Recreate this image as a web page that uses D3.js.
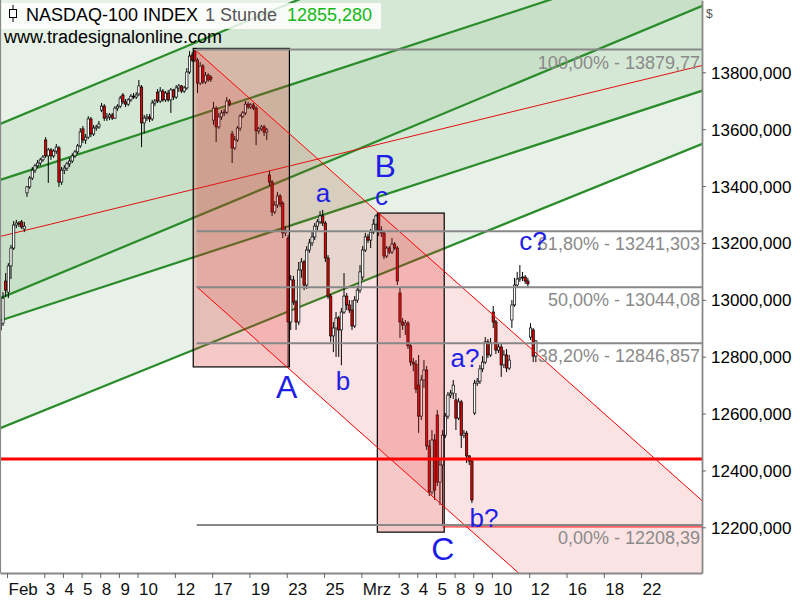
<!DOCTYPE html>
<html><head><meta charset="utf-8">
<script src="https://cdn.jsdelivr.net/npm/d3@7"></script>
<style>body{margin:0;background:#fff}svg{display:block}text{font-family:"Liberation Sans",Arial,sans-serif}</style>
</head><body><svg id="c" width="800" height="600"></svg>
<script>
// ---------- DATA ----------
// hourly bars, 7 per session; bar index 0 = first bar of Feb 1
const barStart = -3;
const opens = [12894,12918,13066,
13027,13119,13182,13263,13270,13274,13249,
13376,13397,13428,13456,13471,13481,13492,
13562,13506,13527,13506,13523,13534,13414,
13456,13463,13478,13488,13506,13520,13541,
13601,13562,13572,13636,13583,13604,13608,
13667,13681,13639,13643,13650,13639,13674,
13681,13720,13696,13688,13703,13716,13713,
13724,13748,13622,13639,13643,13636,13692,
13730,13699,13734,13703,13727,13703,13738,
13713,13745,13752,13734,13745,13801,13861,
13875,13843,13762,13822,13766,13790,13783,
13632,13674,13608,13643,13657,13660,13699,
13583,13534,13562,13604,13646,13657,13688,
13678,13685,13674,13594,13601,13608,13590,
13439,13414,13309,13333,13365,13340,13235,
13217,12922,13070,12992,12922,13105,13133,
13052,13175,13200,13221,13259,13274,13295,
13270,13147,13013,12873,12901,12936,12894,
12957,13013,12982,12964,12908,12999,13034,
13080,13175,13221,13210,13238,13266,13302,
13245,13235,13154,13182,13168,13196,13182,
13024,12922,12911,12918,12838,12781,12774,
12700,12591,12718,12753,12486,12324,12507,
12595,12359,12419,12524,12591,12665,12672,
12648,12584,12641,12524,12531,12451,12433,
12602,12707,12714,12757,12781,12852,12806,
12957,12922,12823,12834,12771,12806,12760,
12929,12982,13052,13073,13077,13080,13066,
12869,12894,12802];
const highs = [12936,13027,13094,
13129,13193,13277,13281,13277,13281,13274,
13400,13435,13467,13478,13492,13499,13509,
13572,13534,13534,13530,13548,13541,13467,
13474,13485,13499,13516,13527,13548,13604,
13611,13583,13646,13643,13615,13615,13629,
13692,13688,13657,13657,13657,13681,13688,
13717,13727,13706,13709,13724,13727,13730,
13773,13755,13650,13653,13653,13703,13706,
13741,13748,13741,13734,13738,13745,13741,
13755,13759,13755,13752,13815,13875,13871,
13879.77,13850,13836,13829,13801,13797,13790,
13696,13681,13657,13667,13671,13713,13706,
13594,13576,13611,13653,13664,13699,13696,
13692,13692,13681,13608,13615,13615,13604,
13453,13421,13347,13379,13372,13347,13259,
13228,13087,13084,12999,13133,13147,13140,
13189,13214,13238,13270,13284,13312,13316,
13277,13157,13020,12922,12957,12943,12971,
13094,13024,12999,12999,13013,13049,13122,
13189,13235,13231,13249,13284,13300,13305,
13259,13242,13189,13189,13217,13203,13189,
13045,12936,12929,12925,12845,12795,12788,
12806,12735,12788,12767,12507,12542,12528,
12612,12437,12542,12602,12676,12683,12718,
12672,12654,12648,12542,12539,12454,12437,
12718,12725,12771,12802,12869,12862,12866,
12978,12929,12845,12848,12823,12827,12806,
12999,13077,13098,13122,13098,13087,13077,
12918,12901,12858];
const lows = [12883,12908,13010,
13006,13073,13175,13252,13256,13249,13238,
13362,13390,13421,13446,13464,13471,13485,
13499,13411,13492,13499,13513,13397,13404,
13442,13453,13467,13481,13499,13513,13534,
13551,13548,13565,13572,13576,13594,13601,
13660,13629,13629,13632,13632,13636,13664,
13674,13688,13678,13681,13696,13706,13706,
13716,13537,13586,13629,13625,13629,13681,
13692,13692,13696,13696,13696,13657,13703,
13706,13731,13727,13727,13738,13794,13836,
13836,13727,13755,13759,13759,13766,13766,
13615,13555,13601,13632,13646,13653,13681,
13481,13527,13555,13594,13639,13650,13671,
13671,13667,13544,13583,13594,13576,13562,
13400,13295,13302,13323,13326,13217,13224,
12764,12894,12982,12894,12911,13077,13034,
13038,13165,13189,13210,13245,13266,13259,
13133,13003,12852,12816,12799,12799,12770,
12950,12964,12954,12894,12901,12989,13024,
13070,13168,13200,13182,13231,13242,13224,
13221,13143,13147,13161,13161,13175,13052,
12866,12894,12876,12827,12767,12749,12672,
12532,12577,12690,12472,12310,12314,12296,
12345,12278,12208.39,12514,12581,12654,12651,
12542,12577,12479,12514,12426,12419,12285,
12595,12697,12704,12746,12774,12795,12799,
12901,12809,12813,12729,12760,12746,12753,
12901,12975,13045,13063,13066,13056,13045,
12859,12781,12781];
const closes = [12918,13006,13034,
13119,13182,13263,13270,13266,13256,13259,
13397,13428,13456,13471,13481,13492,13502,
13506,13527,13506,13523,13537,13414,13456,
13463,13478,13488,13506,13520,13541,13590,
13562,13572,13636,13583,13604,13608,13618,
13681,13639,13643,13650,13639,13674,13681,
13709,13696,13688,13703,13716,13713,13720,
13752,13622,13639,13643,13636,13692,13699,
13699,13734,13703,13727,13703,13738,13713,
13745,13752,13734,13745,13801,13857,13843,
13843,13762,13822,13766,13790,13773,13776,
13674,13608,13643,13657,13660,13699,13688,
13534,13562,13604,13646,13657,13688,13678,
13685,13674,13594,13601,13608,13590,13597,
13414,13309,13333,13365,13337,13235,13245,
12922,13070,12992,12922,13105,13133,13052,
13175,13200,13221,13259,13274,13295,13270,
13147,13013,12873,12901,12936,12894,12957,
13013,12982,12964,12908,12999,13034,13098,
13175,13221,13210,13238,13266,13295,13245,
13235,13154,13182,13168,13196,13182,13066,
12922,12911,12918,12838,12781,12774,12686,
12591,12718,12753,12486,12324,12507,12331,
12359,12419,12524,12591,12665,12672,12700,
12584,12641,12524,12531,12451,12433,12296,
12707,12714,12757,12781,12852,12806,12848,
12922,12823,12834,12771,12806,12760,12788,
12982,13052,13073,13077,13080,13066,13056,
12901,12802,12855.28];

// x-axis: session index (7 bars each) and labels
const tickSessions = [0,2,3,4,5,6,7,9,11,13,15,17,19,21,22,23,24,25,26,28,30,32,34];
const tickLabels = ["Feb","3","4","5","8","9","10","12","17","19","23","25","Mrz","3","4","5","8","9","10","12","16","18","22"];
const yTicks = [12200,12400,12600,12800,13000,13200,13400,13600,13800];

// regression channels: price at bar -3 and bar 260
const channelBars = [-3, 260];
const greenA = [13618.7, 14644.7];
const greenB = [13421.7, 14228.9];
const greenC = [13005.8, 14031.8];
const greenD = [12926.9, 13734.1];
const greenE = [12548.6, 13546.6];
const redMid = [13222.9, 13823.1];

// falling channel (high -> B, parallel through A)
const chanHigh = [70, 13879.77];
const chanB = [139, 13305];
const chanA = [105, 12760];
const chanStart = 70.7;

// fibonacci retracement
const fibLevels = [13879.77, 13241.303, 13044.08, 12846.857, 12208.39];
const fibLabels = ["100,00% - 13879,77","61,80% - 13241,303","50,00% - 13044,08","38,20% - 12846,857","0,00% - 12208,39"];
const fibStart = 70.7;

// boxes: [bar from, bar to, low, high]
const box1 = [69.4, 105.5, 12764, 13884];
const box2 = [138.5, 163.6, 12183, 13305];
const supportLevel = 12440;
const cLowBar = 163;

// wave labels
const waveText  = ["B","a","c","A","b","C","a?","b?","c?"];
const waveBar   = [141.4,118.1,140.1,104.5,125.6,163.1,171.4,178.5,196.9];
const wavePrice = [13432,13345,13333,12655,12683,12085,12764,12201,13175];
const waveBig   = [1,0,0,1,0,1,0,0,0];

// ---------- CHART ----------
const W=800,H=600,plotR=702,plotB=573;
const x = d3.scaleLinear().domain([-3.127, 260.36]).range([0, plotR]);
const y = d3.scaleLinear().domain([12039.3, 14054.24]).range([plotB, 0]);
const svg = d3.select("#c");
svg.append("rect").attr("width",W).attr("height",H).attr("fill","#fff");
svg.append("defs").append("clipPath").attr("id","clip").append("rect").attr("width",plotR).attr("height",plotB);
const g = svg.append("g").attr("clip-path","url(#clip)");

const lineAt = (arr,i)=> arr[0] + (i-channelBars[0])/(channelBars[1]-channelBars[0])*(arr[1]-arr[0]);
const i0=-3.5, i1=261;
const topArr=[14300,14300], botArr=[11900,11900];
function band(up, lo, fill){
  const pts=[[x(i0),y(lineAt(up,i0))],[x(i1),y(lineAt(up,i1))],[x(i1),y(lineAt(lo,i1))],[x(i0),y(lineAt(lo,i0))]];
  g.append("path").attr("d","M"+pts.join("L")+"Z").attr("fill",fill);
}
band(topArr, greenE, "#e7f1e7");
band(greenA, greenD, "#d5e8d5");
band(greenB, greenC, "#c8e0c8");

[greenA,greenB,greenC,greenD,greenE].forEach(a=>{
  g.append("line").attr("x1",x(i0)).attr("y1",y(lineAt(a,i0))).attr("x2",x(i1)).attr("y2",y(lineAt(a,i1)))
   .attr("stroke","#2a8c2a").attr("stroke-width",2.2);
});
g.append("line").attr("x1",x(i0)).attr("y1",y(lineAt(redMid,i0))).attr("x2",x(i1)).attr("y2",y(lineAt(redMid,i1)))
 .attr("stroke","#e01010").attr("stroke-width",1);

// falling channel
const slope = (chanB[1]-chanHigh[1])/(chanB[0]-chanHigh[0]);
const upP = i => chanHigh[1] + slope*(i-chanHigh[0]);
const loP = i => chanA[1] + slope*(i-chanA[0]);
const ce = 262;
g.append("path").attr("d","M"+[[x(chanStart),y(upP(chanStart))],[x(ce),y(upP(ce))],[x(ce),y(loP(ce))],[x(chanStart),y(loP(chanStart))]].join("L")+"Z")
 .attr("fill","rgba(230,22,22,0.12)");

// candles
const bars = closes.map((c,k)=>({i:barStart+k,o:opens[k],h:highs[k],l:lows[k],c}));
const bw=2.3;
g.append("g").selectAll("line").data(bars).join("line")
 .attr("x1",d=>x(d.i)).attr("x2",d=>x(d.i)).attr("y1",d=>y(d.h)).attr("y2",d=>y(d.l))
 .attr("stroke","#000").attr("stroke-width",1);
g.append("g").selectAll("rect").data(bars).join("rect")
 .attr("x",d=>x(d.i)-bw/2).attr("width",bw)
 .attr("y",d=>y(Math.max(d.o,d.c)))
 .attr("height",d=>Math.max(y(Math.min(d.o,d.c))-y(Math.max(d.o,d.c)),0.8))
 .attr("fill",d=>d.c<d.o?"#e00000":"#fff").attr("stroke","#000").attr("stroke-width",0.7);

// boxes
[box1,box2].forEach(b=>{
  g.append("rect").attr("x",x(b[0])).attr("y",y(b[3])).attr("width",x(b[1])-x(b[0])).attr("height",y(b[2])-y(b[3]))
   .attr("fill","rgba(220,40,40,0.25)").attr("stroke","#000").attr("stroke-width",1.2);
});

// channel lines
[upP,loP].forEach(f=>{
  g.append("line").attr("x1",x(chanStart)).attr("y1",y(f(chanStart))).attr("x2",x(ce)).attr("y2",y(f(ce)))
   .attr("stroke","#ff0000").attr("stroke-width",1);
});

// fib lines
g.append("line").attr("x1",x(cLowBar)).attr("x2",plotR).attr("y1",y(fibLevels[4])+2).attr("y2",y(fibLevels[4])+2).attr("stroke","#ff0000").attr("stroke-width",1);
fibLevels.forEach((v,k)=>{
  g.append("line").attr("x1",x(fibStart)).attr("x2",plotR).attr("y1",y(v)).attr("y2",y(v)).attr("stroke","#888").attr("stroke-width",2);
  g.append("text").attr("x",700).attr("y",y(v)+19).attr("text-anchor","end").attr("font-size",18).attr("fill","#8a8a8a").text(fibLabels[k]);
});

// support
g.append("line").attr("x1",0).attr("x2",plotR).attr("y1",y(supportLevel)).attr("y2",y(supportLevel)).attr("stroke","#ff0000").attr("stroke-width",3);

// wave labels
waveText.forEach((t,k)=>{
  g.append("text").attr("x",x(waveBar[k])).attr("y",y(wavePrice[k])).attr("text-anchor","middle")
   .attr("font-size",waveBig[k]?32:26).attr("fill","#1e1ee6").text(t);
});

// header
svg.append("rect").attr("x",0).attr("y",3).attr("width",381).attr("height",26).attr("fill","rgba(255,255,255,0.82)");
svg.append("line").attr("x1",13).attr("x2",13).attr("y1",5).attr("y2",22).attr("stroke","#000").attr("stroke-width",1);
svg.append("rect").attr("x",9.5).attr("y",9.5).attr("width",7).attr("height",8).attr("fill","#fff").attr("stroke","#000").attr("stroke-width",1);
svg.append("text").attr("x",26).attr("y",21).attr("font-size",18).attr("fill","#000").text("NASDAQ-100 INDEX");
svg.append("text").attr("x",205).attr("y",21).attr("font-size",18).attr("fill","#555").text("1 Stunde");
svg.append("text").attr("x",287).attr("y",21).attr("font-size",18).attr("fill","#14b814").text("12855,280");
svg.append("text").attr("x",4).attr("y",43).attr("font-size",18).attr("fill","#000").text("www.tradesignalonline.com");
svg.append("text").attr("x",706).attr("y",18).attr("font-size",12).attr("fill","#555").text("$");

// axes
svg.append("line").attr("x1",0.5).attr("x2",0.5).attr("y1",0).attr("y2",plotB).attr("stroke","#888").attr("stroke-width",1.2);
const yAxis = d3.axisRight(y).tickValues(yTicks).tickSize(4).tickPadding(5).tickSizeOuter(0)
  .tickFormat(v=>d3.format(".3f")(v).replace(".",","));
const ya = svg.append("g").attr("transform",`translate(${plotR},0)`).call(yAxis);
ya.select(".domain").attr("stroke","#888").attr("stroke-width",1.8);
ya.selectAll(".tick line").attr("stroke","#666");
ya.selectAll("text").attr("font-size",17).attr("fill","#000").attr("font-family","Liberation Sans, Arial, sans-serif").attr("dy","0.35em");

const xAxis = d3.axisBottom(x).tickValues(tickSessions.map(d=>7*d-0.5)).tickSize(5).tickSizeOuter(0)
  .tickFormat((v,k)=>tickLabels[k]);
const xa = svg.append("g").attr("transform",`translate(0,${plotB})`).call(xAxis);
xa.select(".domain").attr("stroke","#888").attr("stroke-width",1.8);
xa.selectAll(".tick line").attr("stroke","#666");
xa.selectAll("text").attr("font-size",17).attr("fill","#111").attr("font-family","Liberation Sans, Arial, sans-serif")
  .attr("text-anchor","start").attr("x",1).attr("y",22).attr("dy",null);
</script></body></html>
